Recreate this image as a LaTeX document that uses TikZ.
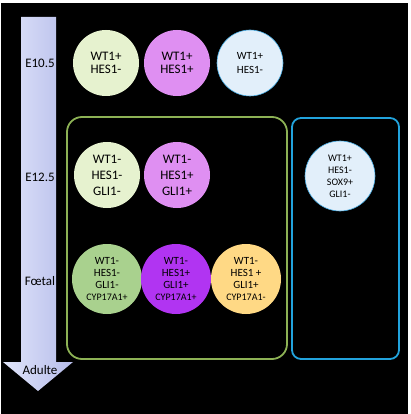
\documentclass[tikz,border=0pt]{standalone}
\usepackage{fontspec}
\setmainfont{Carlito}
\usepackage{xcolor}
\usepackage{tikz}
\definecolor{palegreen}{RGB}{230,242,207}
\definecolor{palepink}{RGB}{223,143,242}
\definecolor{paleblue}{RGB}{226,239,250}
\definecolor{cellblue}{RGB}{70,170,225}
\definecolor{midgreen}{RGB}{169,209,142}
\definecolor{violet}{RGB}{177,52,242}
\definecolor{paleyellow}{RGB}{255,217,133}
\definecolor{boxgreen}{RGB}{141,178,85}
\definecolor{boxblue}{RGB}{34,163,220}
\definecolor{arrowleft}{RGB}{224,229,250}
\definecolor{arrowright}{RGB}{182,188,234}
\tikzset{cell/.style={circle,inner sep=0pt,align=center,text=black},
         small/.style={cell,minimum size=66pt,font=\fontsize{13}{13.5}\selectfont},
         mid/.style={cell,minimum size=66pt,font=\fontsize{13}{16}\selectfont},
         late/.style={cell,minimum size=70pt,font=\fontsize{11}{12}\selectfont},
         stage/.style={font=\fontsize{13}{14}\selectfont,text=black}}
\newcommand{\cyp}[1]{{\fontsize{10}{12}\selectfont CYP17A1#1}}

\begin{document}
\begin{tikzpicture}[x=1pt,y=-1pt]
\useasboundingbox (0,0) rectangle (410,414);
\fill[white] (0,0) rectangle (410,414);
\fill[black] (1,3) rectangle (408,414);
% time axis
\shade[left color=arrowleft,right color=arrowright]
  (21,17) -- (56,17) -- (56,362) -- (73,362) -- (38,391) -- (3,362) -- (21,362) -- cycle;
\foreach \y/\ytext/\yname in {63/E10.5/ea,177/E12.5/eb,281/Fœtal/fo,370/Adulte/ad}
  \node[stage] (\yname) at (40,\y) {\ytext};
% groups
\draw[boxgreen,line width=1.8pt,rounded corners=15pt] (67,117) rectangle (287,359);
\draw[boxblue,line width=1.8pt,rounded corners=9pt] (292,118) rectangle (399,359);
% E10.5
\node[small,fill=palegreen] (ea1) at (106,63) {WT1+\\HES1-};
\node[small,fill=palepink] (ea2) at (177,63) {WT1+\\HES1+};
\node[small,fill=paleblue,draw=cellblue,line width=0.6pt,
      font=\fontsize{11}{14}\selectfont] (ea3) at (250,63) {WT1+\\HES1-};
% E12.5
\node[mid,fill=palegreen] (eb1) at (107,175) {WT1-\\HES1-\\GLI1-};
\node[mid,fill=palepink] (eb2) at (177,175) {WT1-\\HES1+\\GLI1+};
\node[cell,minimum size=70pt,fill=paleblue,draw=cellblue,line width=0.6pt,
      font=\fontsize{10}{12}\selectfont] (eb3) at (340,176) {WT1+\\HES1-\\SOX9+\\GLI1-};
% foetal
\node[late,fill=midgreen] (fo1) at (107,279) {WT1-\\HES1-\\GLI1-\\\cyp{+}};
\node[late,fill=violet] (fo2) at (176,279) {WT1-\\HES1+\\GLI1+\\\cyp{+}};
\node[late,fill=paleyellow] (fo3) at (246,279) {WT1-\\HES1 +\\GLI1+\\\cyp{-}};
\end{tikzpicture}
\end{document}
